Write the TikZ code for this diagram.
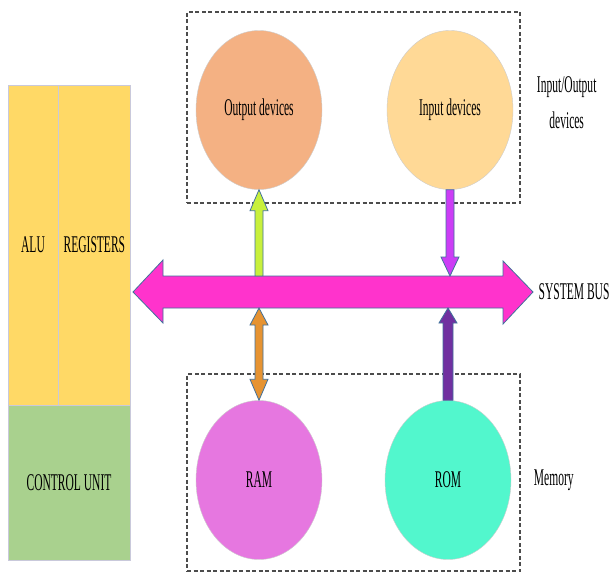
\documentclass[tikz,border=0pt]{standalone}
\usepackage{fontspec}
\setmainfont{Liberation Serif}[FakeStretch=0.48]
\usepackage{xcolor}
\usetikzlibrary{shapes,arrows,positioning,calc}

\definecolor{aluyellow}{HTML}{FFD966}
\definecolor{cugreen}{HTML}{A9D18E}
\definecolor{outorange}{HTML}{F4B183}
\definecolor{inyellow}{HTML}{FFD996}
\definecolor{rampink}{HTML}{E677E0}
\definecolor{romgreen}{HTML}{52F7CD}
\definecolor{busmagenta}{HTML}{FF33CC}
\definecolor{limeup}{HTML}{C8F03C}
\definecolor{violetdown}{HTML}{CC3DF5}
\definecolor{orangeboth}{HTML}{E69332}
\definecolor{purpleup}{HTML}{7030A0}
\definecolor{edgeblue}{HTML}{41719C}

\begin{document}
\begin{tikzpicture}[
    x=1pt, y=-1pt,
    thick,
    label text/.style={font=\fontsize{24}{36}\selectfont},
    cpu part/.style={rectangle,draw=blue!20!gray!35,thin,inner sep=0pt,font=\fontsize{24}{36}\selectfont},
    device/.style={ellipse,draw=gray!40,thin,minimum width=126pt,minimum height=159pt,inner sep=0pt,font=\fontsize{24}{36}\selectfont},
    group box/.style={rectangle,draw=black!70,dash pattern=on 4pt off 2.5pt,line width=1.2pt,minimum width=333pt},
    block arrow/.style={draw=edgeblue,line width=0.8pt}
]
\fill[white] (0,0) rectangle (611,573);
\useasboundingbox (0,0) rectangle (611,573);

% Processor
\node[cpu part,fill=aluyellow,minimum width=50pt,minimum height=320pt] (alu) at (33,245) {ALU};
\node[cpu part,fill=aluyellow,minimum width=72pt,minimum height=320pt,right=0pt of alu] (reg) {REGISTERS};
\node[cpu part,fill=cugreen,minimum width=122pt,minimum height=155pt,anchor=north west] (cu) at (alu.south west) {CONTROL UNIT};

% Groups
\node[group box,minimum height=191pt] (iobox) at (353.5,107.5) {};
\node[group box,minimum height=197pt] (membox) at (353.5,472.5) {};

% Devices and memory
\node[device,fill=outorange] (out) at (259,110) {Output devices};
\node[device,fill=inyellow] (in) at (450,110) {Input devices};
\node[device,fill=rampink] (ram) at (259,480) {RAM};
\node[device,fill=romgreen] (rom) at (448,480) {ROM};

% System bus
\coordinate (bus w) at (133,292);
\coordinate (bus e) at (533,292);
\draw[block arrow,fill=busmagenta] (bus w) -- ($(bus w)+(30,-32)$) -- ($(bus w)+(30,-16)$) -- ($(bus e)+(-30,-16)$)
    -- ($(bus e)+(-30,-31)$) -- (bus e) -- ($(bus e)+(-30,32)$) -- ($(bus e)+(-30,16)$)
    -- ($(bus w)+(30,16)$) -- ($(bus w)+(30,31)$) -- cycle;
\coordinate (bus n) at (333,276);
\coordinate (bus s) at (333,308);
\coordinate (g0) at (out.south |- bus n);
\coordinate (m1) at (in.south |- bus n);
\coordinate (r1) at (ram.north |- bus s);
\coordinate (p1) at (rom.north |- bus s);

% Arrows
\draw[block arrow,fill=limeup] ($(g0)+(-4,0)$) -- ($(out.south)+(-4,21)$) -- ($(out.south)+(-9,21)$) -- (out.south)
    -- ($(out.south)+(9,21)$) -- ($(out.south)+(4,21)$) -- ($(g0)+(4,0)$) -- cycle;
\draw[block arrow,fill=violetdown] ($(in.south)+(-4,0)$) -- ($(m1)+(-4,-19)$) -- ($(m1)+(-9,-19)$) -- (m1)
    -- ($(m1)+(9,-19)$) -- ($(m1)+(4,-19)$) -- ($(in.south)+(4,0)$) -- cycle;
\draw[block arrow,fill=orangeboth] (r1) -- ($(r1)+(9,17)$) -- ($(r1)+(4,17)$) -- ($(ram.north)+(4,-21)$)
    -- ($(ram.north)+(9,-21)$) -- (ram.north) -- ($(ram.north)+(-9,-21)$) -- ($(ram.north)+(-4,-21)$)
    -- ($(r1)+(-4,17)$) -- ($(r1)+(-9,17)$) -- cycle;
\draw[block arrow,fill=purpleup] ($(rom.north)+(-5,0)$) -- ($(p1)+(-5,15)$) -- ($(p1)+(-9,15)$) -- (p1)
    -- ($(p1)+(9,15)$) -- ($(p1)+(5,15)$) -- ($(rom.north)+(5,0)$) -- cycle;

% Labels
\node[label text,right=2pt of bus e] (buslabel) {SYSTEM BUS};
\node[label text,align=center,right=20pt of in,yshift=7pt] (iolabel) {Input/Output\\devices};
\node[label text,right=19pt of rom] (memlabel) {Memory};

\end{tikzpicture}
\end{document}
